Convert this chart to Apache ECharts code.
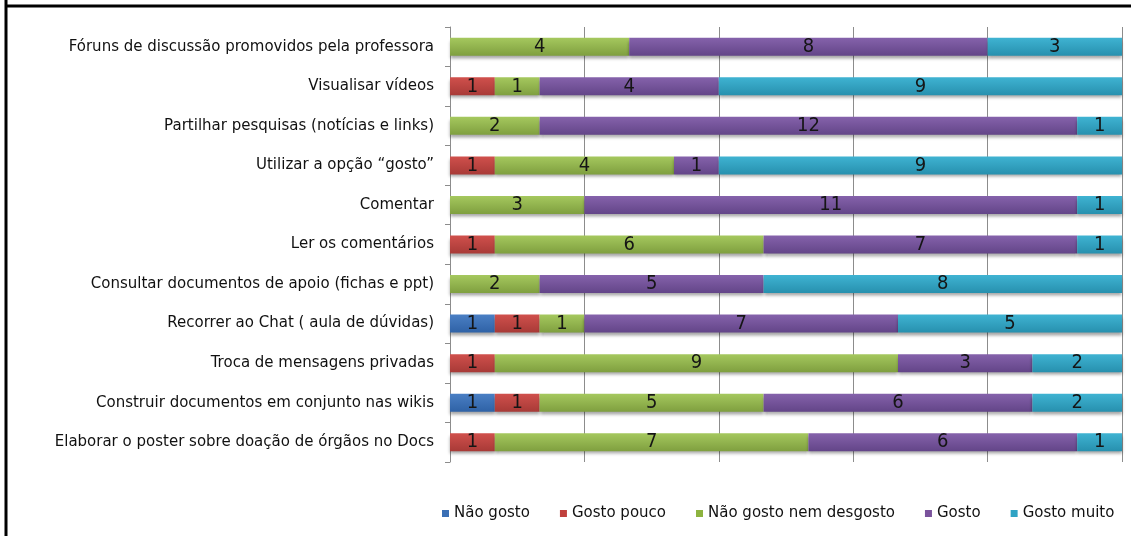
<!DOCTYPE html>
<html>
<head>
<meta charset="utf-8">
<script src="https://cdn.jsdelivr.net/npm/echarts@6/dist/echarts.min.js"></script>
<style>
html,body{margin:0;padding:0;background:#fff;}
#c{width:1131px;height:536px;}
</style>
</head>
<body>
<div id="c"></div>
<script>
const categories = [
  "Fóruns de discussão promovidos pela professora",
  "Visualisar vídeos",
  "Partilhar pesquisas (notícias e links)",
  "Utilizar a opção “gosto”",
  "Comentar",
  "Ler os comentários",
  "Consultar documentos de apoio (fichas e ppt)",
  "Recorrer ao Chat ( aula de dúvidas)",
  "Troca de mensagens privadas",
  "Construir documentos em conjunto nas wikis",
  "Elaborar o poster sobre doação de órgãos no Docs"
];
const seriesNames = ["Não gosto", "Gosto pouco", "Não gosto nem desgosto", "Gosto", "Gosto muito"];
const naoGosto       = [0, 0, 0, 0, 0, 0, 0, 1, 0, 1, 0];
const gostoPouco     = [0, 1, 0, 1, 0, 1, 0, 1, 1, 1, 1];
const nemDesgosto    = [4, 1, 2, 4, 3, 6, 2, 1, 9, 5, 7];
const gosto          = [8, 4, 12, 1, 11, 7, 5, 7, 3, 6, 6];
const gostoMuito     = [3, 9, 1, 9, 1, 1, 8, 5, 2, 2, 1];
const xTicks = { min: 0, max: 15, interval: 3 };

const seriesData = [naoGosto, gostoPouco, nemDesgosto, gosto, gostoMuito];
const colors = [
  ["#4a7fc4", "#2f62a6"],
  ["#d0504c", "#a83a37"],
  ["#a5c85e", "#7f9f3f"],
  ["#8562ab", "#634588"],
  ["#3fb3d2", "#2790ae"]
];
const legendColors = ["#3a6fb5", "#c0403d", "#8db33f", "#7a529c", "#2fa3c4"];

const chart = echarts.init(document.getElementById('c'), null, {renderer: 'canvas'});
const option = {
  animation: false,
  backgroundColor: '#fff',
  color: legendColors,
  grid: { left: 450, right: 9, top: 27, bottom: 74, containLabel: false },
  xAxis: {
    type: 'value', min: xTicks.min, max: xTicks.max, interval: xTicks.interval,
    axisLabel: { show: false }, axisTick: { show: false }, axisLine: { show: false },
    splitLine: { show: true, lineStyle: { color: '#8c8c8c', width: 1 } }
  },
  yAxis: {
    type: 'category', data: categories, inverse: true,
    axisLine: { show: true, lineStyle: { color: '#8c8c8c', width: 1 } },
    axisTick: { show: true, length: 5, lineStyle: { color: '#8c8c8c' } },
    axisLabel: { fontFamily: 'DejaVu Sans', fontSize: 15, color: '#111', margin: 16 }
  },
  legend: {
    data: seriesNames.map((n, i) => ({ name: n, itemStyle: { color: legendColors[i] } })),
    left: 437, top: 501, icon: 'rect', itemWidth: 7, itemHeight: 7, itemGap: 30,
    textStyle: { fontFamily: 'DejaVu Sans', fontSize: 15, color: '#111', padding: [0, 0, 0, 0] }
  },
  graphic: [
    { type: 'line', shape: { x1: 6, y1: 0, x2: 6, y2: 536 }, style: { stroke: '#000', lineWidth: 3 } },
    { type: 'line', shape: { x1: 5, y1: 6, x2: 1131, y2: 6 }, style: { stroke: '#000', lineWidth: 3 } }
  ],
  series: seriesNames.map((name, i) => ({
    name: name, type: 'bar', stack: 'total', barWidth: 18,
    data: seriesData[i],
    itemStyle: {
      color: new echarts.graphic.LinearGradient(0, 0, 0, 1, [
        { offset: 0, color: colors[i][0] }, { offset: 1, color: colors[i][1] }
      ]),
      shadowColor: 'rgba(0,0,0,0.35)', shadowBlur: 3, shadowOffsetY: 3
    },
    label: {
      show: true, position: 'inside', color: '#151515',
      fontFamily: "'DejaVu Sans Condensed', sans-serif", fontSize: 20,
      formatter: p => p.value > 0 ? String(p.value) : ''
    }
  }))
};
chart.setOption(option);
</script>
</body>
</html>
